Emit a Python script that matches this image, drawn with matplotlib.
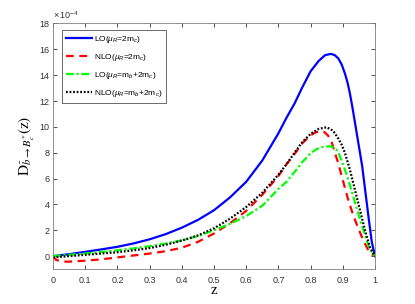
import matplotlib
matplotlib.use("Agg")
import matplotlib.pyplot as plt

# LO, mu_R = 2 m_c  (blue solid)
z_lo_a = [0, 0.05, 0.1, 0.15, 0.2, 0.25, 0.3, 0.35, 0.4, 0.45, 0.5, 0.55, 0.6, 0.65, 0.7, 0.725, 0.75,
          0.775, 0.8, 0.825, 0.845, 0.863, 0.875, 0.886, 0.897, 0.907, 0.915, 0.922, 0.93, 0.94, 0.95,
          0.96, 0.97, 0.98, 0.99, 1.0]
lo_2mc = [0.0, 0.15, 0.33, 0.52, 0.72, 0.98, 1.3, 1.7, 2.2, 2.8, 3.55, 4.55, 5.75, 7.4, 9.5, 10.7, 11.8,
          13.1, 14.3, 15.1, 15.55, 15.65, 15.55, 15.3, 14.8, 14.1, 13.4, 12.6, 11.5, 10.0, 8.5,
          7.0, 5.0, 3.0, 1.1, 0.0]

# NLO, mu_R = 2 m_c  (red dashed)
z_nlo_a = [0, 0.01, 0.03, 0.05, 0.1, 0.15, 0.2, 0.25, 0.3, 0.35, 0.4, 0.45, 0.5, 0.55, 0.6, 0.65, 0.7,
           0.725, 0.75, 0.775, 0.8, 0.814, 0.829, 0.843, 0.855, 0.865, 0.876, 0.887, 0.897, 0.907,
           0.917, 0.928, 0.938, 0.949, 0.959, 0.969, 0.979, 0.99, 1.0]
nlo_2mc = [0.0, -0.3, -0.42, -0.43, -0.35, -0.25, -0.1, 0.05, 0.2, 0.38, 0.65, 1.1, 1.75, 2.55, 3.5, 4.75, 6.2,
           7.1, 7.9, 8.75, 9.35, 9.55, 9.7, 9.6, 9.3, 8.85, 7.95, 7.1, 6.15, 5.25,
           4.35, 3.5, 2.8, 2.1, 1.5, 0.95, 0.47, 0.15, 0.0]

# LO, mu_R = m_b + 2 m_c  (green dash-dot)
z_lo_b = [0, 0.05, 0.1, 0.15, 0.2, 0.25, 0.3, 0.35, 0.4, 0.45, 0.5, 0.55, 0.6, 0.65, 0.7, 0.725, 0.75,
          0.775, 0.8, 0.82, 0.84, 0.86, 0.872, 0.881, 0.89, 0.897, 0.905, 0.912, 0.92, 0.928, 0.935,
          0.943, 0.951, 0.959, 0.967, 0.974, 0.982, 0.99, 1.0]
lo_mb2mc = [0.0, 0.1, 0.2, 0.32, 0.45, 0.6, 0.77, 0.97, 1.22, 1.55, 2.0, 2.5, 3.1, 3.9, 5.2, 5.75, 6.5,
            7.3, 7.95, 8.3, 8.47, 8.5, 8.4, 8.2, 7.8, 7.3, 6.8, 6.3, 5.65, 5.0, 4.4,
            3.7, 3.05, 2.4, 1.8, 1.2, 0.7, 0.3, 0.0]

# NLO, mu_R = m_b + 2 m_c  (black dotted)
z_nlo_b = [0, 0.05, 0.1, 0.15, 0.2, 0.25, 0.3, 0.35, 0.4, 0.45, 0.5, 0.55, 0.6, 0.65, 0.7, 0.725, 0.75,
           0.775, 0.8, 0.825, 0.85, 0.87, 0.886, 0.897, 0.907, 0.922, 0.938, 0.953, 0.969, 0.984, 1.0]
nlo_mb2mc = [-0.1, 0.0, 0.1, 0.2, 0.3, 0.45, 0.62, 0.88, 1.2, 1.6, 2.15, 2.9, 3.8, 4.9, 6.3, 7.1, 8.0,
             8.85, 9.45, 9.85, 9.97, 9.7, 9.1, 8.6, 7.95, 6.7, 5.1, 3.6, 2.0, 0.7, 0.0]

labels = [r'LO($\mu_R$=2m$_c$)', r'NLO($\mu_R$=2m$_c$)',
          r'LO($\mu_R$=m$_b$+2m$_c$)', r'NLO($\mu_R$=m$_b$+2m$_c$)']
xticks = [0, 0.1, 0.2, 0.3, 0.4, 0.5, 0.6, 0.7, 0.8, 0.9, 1]
xticklabels = ['0', '0.1', '0.2', '0.3', '0.4', '0.5', '0.6', '0.7', '0.8', '0.9', '1']
yticks = [0, 2, 4, 6, 8, 10, 12, 14, 16, 18]

plt.rcParams['font.family'] = ['Liberation Sans', 'DejaVu Sans']
plt.rcParams['mathtext.fontset'] = 'custom'
plt.rcParams['mathtext.rm'] = 'Liberation Sans'
plt.rcParams['mathtext.it'] = 'Liberation Sans:italic'
plt.rcParams['mathtext.bf'] = 'Liberation Sans:bold'

fig = plt.figure(figsize=(4.15, 3.04), dpi=100)
ax = fig.add_axes([0.1277, 0.115, 0.7759, 0.8077])

ax.plot(z_lo_a, lo_2mc, color=(0, 0, 1), lw=1.6, ls='-', label=labels[0])
ax.plot(z_nlo_a, nlo_2mc, color=(1, 0, 0), lw=1.6, ls=(0, (3.5, 2.5)), label=labels[1])
ax.plot(z_lo_b, lo_mb2mc, color=(0, 1, 0), lw=1.6, ls=(0, (3.5, 1.2, 1, 1.2)), label=labels[2])
ax.plot(z_nlo_b, nlo_mb2mc, color='black', lw=1.6, ls=(0, (0.8, 0.8)), label=labels[3])

ax.set_xlim(0, 1)
ax.set_ylim(-1, 18)
ax.set_xticks(xticks)
ax.set_xticklabels(xticklabels)
ax.set_yticks(yticks)
ax.tick_params(direction='in', length=3, width=0.6, labelsize=6.5, colors='#333333',
               top=True, right=True, labeltop=False, labelright=False)
ax.tick_params(axis='x', pad=5)
ax.tick_params(axis='y', pad=2.4)
for s in ax.spines.values():
    s.set_color('#808080')
    s.set_linewidth(0.6)

ax.text(0.0, 1.012, r'$\times\,10^{-4}$', transform=ax.transAxes, fontsize=6.5,
        color='#333333', ha='left', va='bottom')

xl = ax.set_xlabel('z', fontsize=11, family='Liberation Serif', labelpad=-1)
yl = ax.set_ylabel(r'$\mathrm{D}_{\bar{b}\rightarrow B_c^{*}}(\mathrm{z})$', fontsize=11, labelpad=2)
yl.set_math_fontfamily('stix')

leg = ax.legend(loc='upper left', bbox_to_anchor=(0.028, 0.974), fontsize=6,
                frameon=True, fancybox=False, edgecolor='#262626', handlelength=3.1,
                handletextpad=0.25, borderpad=0.45, labelspacing=0.85, borderaxespad=0.0)
leg.get_frame().set_linewidth(0.6)

fig.savefig('out.png', dpi=100)
